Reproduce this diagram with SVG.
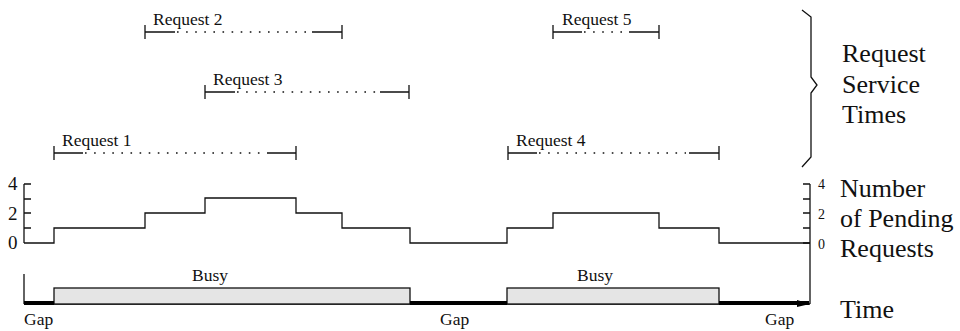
<svg xmlns="http://www.w3.org/2000/svg" width="960" height="331" viewBox="0 0 960 331" font-family="Liberation Serif, serif">
<style>
text{fill:#111}
.sm{font-size:17.5px}
.ax{font-size:19px}
.axr{font-size:14px}
.lg{font-size:26px}
.ln{stroke:#111;stroke-width:1.3;fill:none}
.dot{stroke:#111;stroke-width:1.3;fill:none;stroke-dasharray:1.6 7.5}
.thick{stroke:#000;stroke-width:4;fill:none}
.busy{fill:#e5e5e5;stroke:#111;stroke-width:1.3}
</style>
<g id="request2">
<path class="ln" d="M145,25V39M342,25V39M145,32H175M312,32H342"/>
<path class="dot" d="M177,32H308"/>
<text class="sm" x="153" y="25">Request 2</text>
</g>
<g id="request3">
<path class="ln" d="M205,85V99M409,85V99M205,92H235M380,92H409"/>
<path class="dot" d="M237,92H376"/>
<text class="sm" x="213" y="85">Request 3</text>
</g>
<g id="request1">
<path class="ln" d="M54,146V160M296,146V160M54,153H83M267,153H296"/>
<path class="dot" d="M85,153H263"/>
<text class="sm" x="62" y="146">Request 1</text>
</g>
<g id="request5">
<path class="ln" d="M553,25V39M659,25V39M553,32H582M629,32H659"/>
<path class="dot" d="M584,32H626"/>
<text class="sm" x="562" y="25">Request 5</text>
</g>
<g id="request4">
<path class="ln" d="M508,146V160M719,146V160M508,153H537M689,153H719"/>
<path class="dot" d="M539,153H686"/>
<text class="sm" x="516" y="146">Request 4</text>
</g>
<g id="brace">
<polyline class="ln" points="802,10 811,17 811,77 817,85 811,93 811,157 802,167"/>
<text class="lg" x="842" y="62">Request</text>
<text class="lg" x="842" y="93">Service</text>
<text class="lg" x="842" y="123">Times</text>
</g>
<g id="pending-chart">
<path class="ln" d="M24,184V243M24,184H31M24,199H31M24,213H31M24,228H31M810,184V304M803,184H810M803,199H810M803,213H810M803,228H810M803,243H810"/>
<polyline class="ln" points="24,243 54,243 54,228 145,228 145,213 205,213 205,198 296,198 296,213 342,213 342,228 410,228 410,243 507,243 507,228 553,228 553,213 659,213 659,228 719,228 719,243 810,243"/>
<text class="ax" x="8" y="190">4</text>
<text class="ax" x="8" y="220">2</text>
<text class="ax" x="8" y="249">0</text>
<text class="axr" x="818" y="189">4</text>
<text class="axr" x="818" y="219">2</text>
<text class="axr" x="818" y="249">0</text>
<text class="lg" x="840" y="197">Number</text>
<text class="lg" x="840" y="227">of Pending</text>
<text class="lg" x="840" y="257">Requests</text>
</g>
<g id="timeline">
<path class="ln" d="M24,274V304M24,304H810"/>
<rect class="busy" x="54" y="288" width="356" height="16"/>
<rect class="busy" x="507" y="288" width="212" height="16"/>
<path class="thick" d="M24,303H54M410,303H507M719,303H809"/>
<path d="M797,300L810,304L797,307Z" fill="#000"/>
<text class="sm" x="192" y="281">Busy</text>
<text class="sm" x="577" y="281">Busy</text>
<text class="sm" x="24" y="325">Gap</text>
<text class="sm" x="440" y="325">Gap</text>
<text class="sm" x="765" y="325">Gap</text>
<text class="lg" x="840" y="318">Time</text>
</g>
</svg>
